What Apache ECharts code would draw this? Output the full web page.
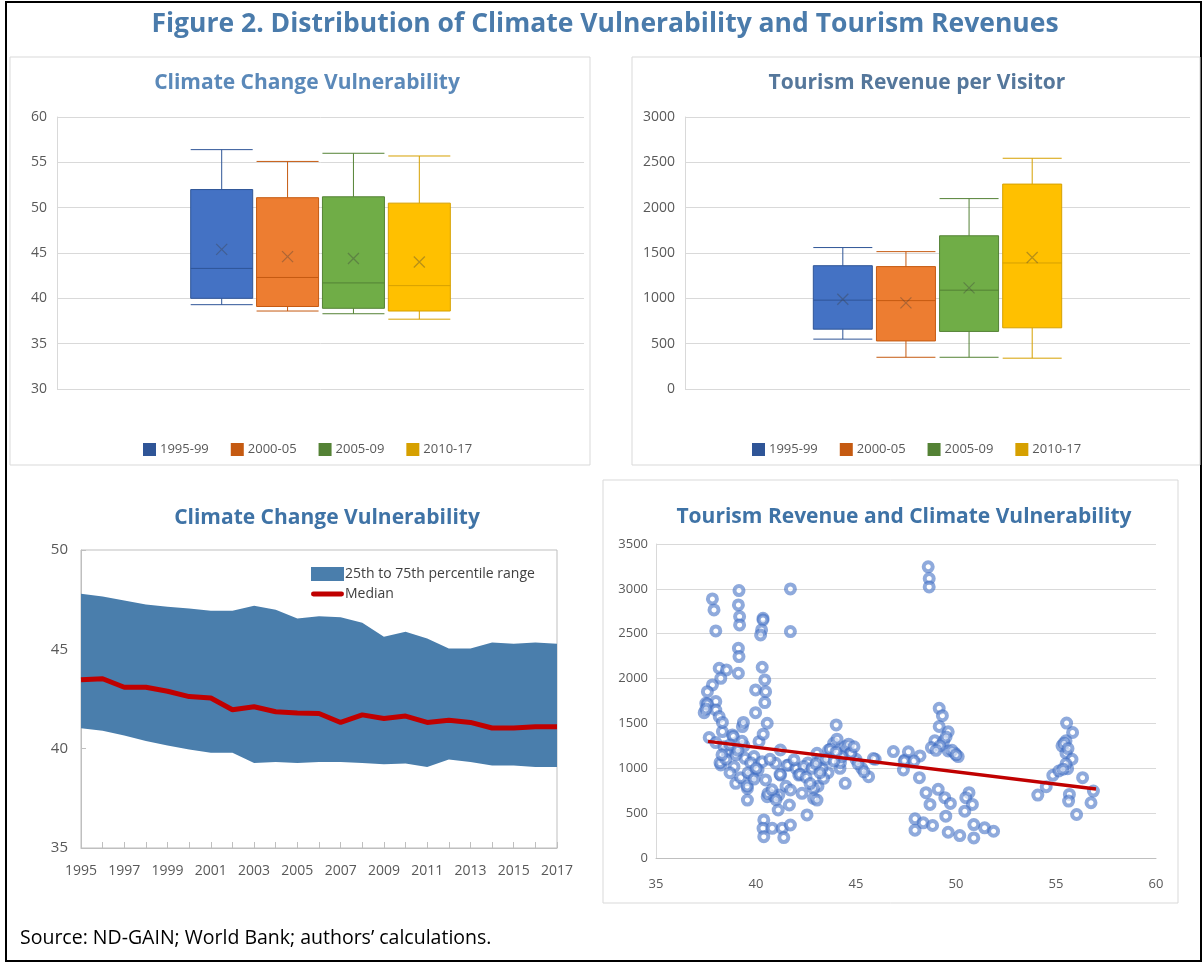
<!DOCTYPE html>
<html>
<head>
<meta charset="utf-8">
<script src="https://cdn.jsdelivr.net/npm/echarts@6/dist/echarts.min.js"></script>
<style>
  body { margin: 0; background: #fff; }
  #chart { width: 1204px; height: 963px; }
</style>
</head>
<body>
<div id="chart"></div>
<script>
// --- data ---
const PERIODS = ['1995-99', '2000-05', '2005-09', '2010-17']
const PERIOD_COLORS = ['#4472c4', '#ed7d31', '#70ad47', '#ffc000']
const PERIOD_BORDERS = ['#2f5597', '#c55a11', '#548235', '#d6a000']

// [min, Q1, median, Q3, max]
const VULN_BOX = [
  [39.3, 40.0, 43.3, 52.0, 56.4],
  [38.6, 39.1, 42.3, 51.1, 55.1],
  [38.3, 38.9, 41.7, 51.2, 56.0],
  [37.7, 38.6, 41.4, 50.5, 55.7]
]
const VULN_MEAN = [45.4, 44.6, 44.4, 44.0]

const REV_BOX = [
  [550, 660, 980, 1360, 1560],
  [350, 530, 975, 1350, 1515],
  [350, 635, 1090, 1690, 2100],
  [340, 675, 1390, 2260, 2545]
]
const REV_MEAN = [990, 950, 1115, 1450]

const YEARS = ['1995', '1996', '1997', '1998', '1999', '2000', '2001', '2002', '2003', '2004', '2005', '2006',
  '2007', '2008', '2009', '2010', '2011', '2012', '2013', '2014', '2015', '2016', '2017']
const P75 = [47.8, 47.66, 47.46, 47.26, 47.14, 47.05, 46.94, 46.94, 47.19, 46.99, 46.55, 46.67,
  46.61, 46.34, 45.63, 45.89, 45.55, 45.04, 45.04, 45.34, 45.28, 45.34, 45.28]
const P25 = [41.03, 40.9, 40.66, 40.38, 40.16, 39.96, 39.79, 39.79, 39.28, 39.33, 39.28, 39.33,
  39.33, 39.28, 39.22, 39.25, 39.08, 39.45, 39.33, 39.15, 39.15, 39.08, 39.08]
const MEDIAN = [43.47, 43.52, 43.09, 43.09, 42.89, 42.62, 42.55, 41.96, 42.11, 41.86, 41.79, 41.77,
  41.32, 41.7, 41.52, 41.64, 41.32, 41.43, 41.32, 41.04, 41.04, 41.1, 41.1]

// scatter: vulnerability score vs revenue per visitor
const SC_X = [
  37.82, 37.9, 37.99, 39.15, 39.12, 39.18, 39.18, 40.35, 40.35, 40.28, 40.23, 41.72, 41.72, 39.12, 39.15, 39.12,
  38.16, 38.52, 38.24, 37.82, 37.57, 37.49, 37.99, 40.31, 40.44, 39.98, 40.48, 40.44,
  37.41, 37.57, 37.99, 38.16, 38.32, 38.82, 39.32, 39.98, 40.56, 40.15, 38.32, 39.37, 38.87, 40.36, 37.66, 37.5,
  37.99, 38.57, 38.24, 38.9, 39.45, 38.99, 39.57, 39.57, 39.9, 40.31, 40.48, 40.56, 40.98, 41.23, 41.64, 41.14,
  41.67, 41.11, 40.39, 40.35, 40.81, 41.31, 40.39, 41.39, 41.72, 38.54, 38.2, 39.23, 39.56, 39.4, 39.73, 38.49,
  40.9, 41.2, 41.56, 40.6, 40.8, 41.0, 38.7, 39.0, 39.8, 40.1, 38.4, 39.3,
  38.3, 38.7, 39.1, 39.6, 39.9, 40.0, 40.7, 41.5, 42.0, 42.6, 43.1, 43.6, 44.2, 44.5, 45.0,
  44.01, 43.88, 43.63, 44.46, 44.71, 43.05, 43.22, 46.87, 47.45, 47.37, 45.96, 45.29, 45.63, 44.46, 41.22, 42.14,
  41.72, 42.3, 42.88, 42.88, 43.05, 42.55, 43.38, 43.3, 42.39, 41.9, 42.2, 43.72, 44.22, 44.63, 44.05, 45.87,
  44.75, 42.5, 42.8, 43.0, 43.5, 43.2, 42.7, 44.3, 44.9, 45.1, 45.4, 44.0, 43.9,
  48.61, 48.66, 48.66, 49.16, 49.32, 49.16, 49.61, 48.94, 48.77, 49.39, 49.61, 49.94, 50.11, 47.62, 47.41, 48.2,
  47.9, 48.17, 48.5, 48.7, 49.11, 49.44, 49.72, 49.49, 50.65, 50.49, 50.82, 50.44, 47.95, 47.95, 48.36, 48.83,
  49.61, 50.19, 50.89, 50.89, 51.43, 51.88, 49.2, 49.5, 49.8, 50.0, 49.0,
  54.09, 54.51, 54.84, 55.14, 55.58, 55.53, 55.83, 55.5, 55.3, 55.5, 55.8, 55.67, 55.63, 56.03, 56.33, 56.87,
  56.75, 55.4, 55.6, 55.5, 55.35
]
const SC_Y = [
  2888, 2765, 2531, 2981, 2821, 2691, 2598, 2672, 2654, 2542, 2486, 2999, 2524, 2338, 2245, 2059,
  2115, 2096, 2003, 1929, 1854, 1725, 1744, 2126, 1985, 1873, 1854, 1732,
  1620, 1717, 1650, 1576, 1409, 1372, 1465, 1620, 1502, 1297, 1511, 1511, 1354, 1380, 1343, 1660,
  1287, 1204, 1037, 1018, 1111, 832, 776, 646, 1130, 1074, 870, 684, 1056, 924, 1037, 702,
  591, 535, 424, 331, 331, 331, 238, 228, 368, 1183, 1063, 895, 802, 1250, 1063, 1101,
  690, 933, 1033, 720, 760, 650, 950, 1150, 920, 980, 1240, 1300,
  1150, 1260, 1200, 950, 880, 1000, 1100, 800, 1000, 1060, 800, 950, 1000, 1200, 1100,
  1483, 1279, 1204, 1242, 1167, 1167, 1093, 1186, 1093, 981, 1100, 1000, 907, 832, 1204, 924,
  758, 721, 776, 665, 646, 480, 888, 1000, 1019, 1093, 933, 1213, 1063, 1269, 1325, 1108,
  1168, 900, 1000, 1050, 1100, 950, 830, 1130, 1240, 1050, 960, 1180, 1080,
  3246, 3115, 3022, 1668, 1586, 1466, 1407, 1306, 1231, 1306, 1194, 1168, 1131, 1183, 1082, 1138,
  1082, 895, 728, 597, 765, 672, 608, 466, 728, 672, 597, 522, 437, 310, 392, 362,
  287, 250, 373, 224, 336, 298, 1250, 1350, 1200, 1150, 1200,
  701, 795, 922, 970, 996, 1504, 1399, 1306, 1250, 1168, 1101, 709, 634, 485, 895, 746,
  616, 1280, 1220, 1050, 990
]
const TREND_X = [37.6, 57.0]
const TREND_Y = [1300, 770]

// --- helpers ---
const FONT = '"Open Sans", "Noto Sans", sans-serif'
const SLOTS = ['s0', 's1', 's2', 's3', 's4', 's5', 's6', 's7']
const FIRST_SLOT = 2
const GRID_LINE = '#d9d9d9'
const LABEL = '#595959'
const plain = v => String(v) // no thousands separator, like the source

const chart = echarts.init(document.getElementById('chart'))

const boxAxes = []
const boxSeries = []
const addBoxPanel = (gridIndex, boxes, means, boxWidth) => {
  boxes.forEach((box, i) => {
    const axisIndex = boxAxes.length
    boxAxes.push({ type: 'category', gridIndex, data: SLOTS, show: false })
    // one real box per axis, others empty so each box sits in its own slot
    const data = SLOTS.map((s, k) => (k === FIRST_SLOT + i ? box.slice() : ['-', '-', '-', '-', '-']))
    boxSeries.push({
      name: PERIODS[i],
      type: 'boxplot',
      xAxisIndex: axisIndex,
      yAxisIndex: gridIndex,
      boxWidth: [boxWidth, boxWidth],
      data,
      itemStyle: { color: PERIOD_COLORS[i], borderColor: PERIOD_BORDERS[i], borderWidth: 1 }
    })
    boxSeries.push({
      name: 'mean' + gridIndex + i,
      type: 'scatter',
      xAxisIndex: axisIndex,
      yAxisIndex: gridIndex,
      symbol: 'path://M0,0L10,10M10,0L0,10',
      symbolSize: 11,
      z: 5,
      itemStyle: { color: 'none', borderColor: 'rgba(60,60,60,0.45)', borderWidth: 1.3 },
      data: [[FIRST_SLOT + i, means[i]]]
    })
  })
}
addBoxPanel(0, VULN_BOX, VULN_MEAN, 62)
addBoxPanel(1, REV_BOX, REV_MEAN, 59)

const boxYAxis = (gridIndex, min, max, interval) => ({
  type: 'value', gridIndex, min, max, interval,
  axisLine: { show: true, lineStyle: { color: GRID_LINE } },
  axisTick: { show: false },
  axisLabel: { color: LABEL, fontSize: 14, margin: 10, formatter: plain },
  splitLine: { lineStyle: { color: GRID_LINE } }
})

const titleText = (x, y, text, size, color) => ({
  type: 'text', x, y, silent: true,
  style: { text, fill: color, font: `bold ${size}px ${FONT}`, align: 'center', verticalAlign: 'middle' }
})
const frame = (x, y, width, height, stroke, lineWidth) => ({
  type: 'rect', silent: true, z: -10,
  shape: { x, y, width, height },
  style: { fill: 'none', stroke, lineWidth }
})

const option = {
  animation: false,
  backgroundColor: '#fff',
  textStyle: { fontFamily: FONT },
  graphic: [
    frame(6, 2, 1195, 959, '#000', 2),
    frame(10, 57, 580, 408, GRID_LINE, 1),
    frame(632, 57, 568, 408, GRID_LINE, 1),
    frame(603, 480, 575, 423, GRID_LINE, 1),
    titleText(605, 24, 'Figure 2. Distribution of Climate Vulnerability and Tourism Revenues', 26.5, '#4a7bab'),
    titleText(307, 83, 'Climate Change Vulnerability', 21, '#5b89b9'),
    titleText(917, 83, 'Tourism Revenue per Visitor', 21, '#55779b'),
    titleText(327, 518, 'Climate Change Vulnerability', 21, '#3f73a6'),
    titleText(904, 517, 'Tourism Revenue and Climate Vulnerability', 21, '#3f73a6'),
    {
      type: 'text', x: 20, y: 938, silent: true,
      style: { text: 'Source: ND-GAIN; World Bank; authors’ calculations.', fill: '#000',
        font: `19.5px ${FONT}`, align: 'left', verticalAlign: 'middle' }
    }
  ],
  legend: [
    {
      data: PERIODS, left: 138, top: 438, icon: 'rect', itemWidth: 11, itemHeight: 11, itemGap: 22,
      textStyle: { color: LABEL, fontSize: 13 }, selectedMode: false
    },
    {
      data: PERIODS, left: 747, top: 438, icon: 'rect', itemWidth: 11, itemHeight: 11, itemGap: 22,
      textStyle: { color: LABEL, fontSize: 13 }, selectedMode: false
    },
    {
      data: [
        { name: '25th to 75th percentile range', icon: 'rect' },
        { name: 'Median', icon: 'path://M2,0H31A2,2,0,0,1,31,5H2A2,2,0,0,1,2,0Z' }
      ],
      orient: 'vertical', left: 306, top: 562, itemWidth: 33, itemHeight: 14, itemGap: 6,
      symbolKeepAspect: true,
      textStyle: { color: '#404040', fontSize: 14, padding: [0, 0, 0, -4] }, selectedMode: false
    }
  ],
  grid: [
    { left: 57, top: 117, width: 527, height: 272 },
    { left: 685, top: 117, width: 505, height: 272 },
    { left: 81, top: 550, width: 476, height: 298, show: true, borderColor: '#bfbfbf', borderWidth: 1 },
    { left: 656, top: 544, width: 500, height: 314 }
  ],
  xAxis: [
    ...boxAxes,
    {
      type: 'category', gridIndex: 2, data: YEARS, boundaryGap: false,
      axisLine: { lineStyle: { color: '#bfbfbf' } },
      axisTick: { inside: true, length: 6, interval: 0, lineStyle: { color: '#bfbfbf' } },
      axisLabel: { interval: 1, color: LABEL, fontSize: 14, margin: 16 }
    },
    {
      type: 'value', gridIndex: 3, min: 35, max: 60, interval: 5,
      axisLine: { lineStyle: { color: '#bfbfbf' } },
      axisTick: { show: false },
      splitLine: { show: false },
      axisLabel: { color: LABEL, fontSize: 13, margin: 20 }
    }
  ],
  yAxis: [
    boxYAxis(0, 30, 60, 5),
    boxYAxis(1, 0, 3000, 500),
    {
      type: 'value', gridIndex: 2, min: 35, max: 50, interval: 5,
      axisLine: { show: true, lineStyle: { color: '#bfbfbf' } },
      axisTick: { show: true, inside: true, length: 5, lineStyle: { color: '#bfbfbf' } },
      splitLine: { show: false },
      axisLabel: { color: LABEL, fontSize: 15, margin: 13 }
    },
    {
      type: 'value', gridIndex: 3, min: 0, max: 3500, interval: 500,
      axisLine: { show: true, lineStyle: { color: GRID_LINE } },
      axisTick: { show: false },
      splitLine: { lineStyle: { color: GRID_LINE } },
      axisLabel: { color: LABEL, fontSize: 13, margin: 8, formatter: plain }
    }
  ],
  series: [
    ...boxSeries,
    {
      name: 'p25', type: 'line', xAxisIndex: 8, yAxisIndex: 2, stack: 'band',
      data: P25, symbol: 'none', lineStyle: { opacity: 0 }
    },
    {
      name: '25th to 75th percentile range', type: 'line', xAxisIndex: 8, yAxisIndex: 2, stack: 'band',
      data: P75.map((v, i) => +(v - P25[i]).toFixed(2)), symbol: 'none',
      color: '#4a7eac',
      lineStyle: { width: 0 },
      areaStyle: { color: '#4a7eac', opacity: 1 }
    },
    {
      name: 'Median', type: 'line', xAxisIndex: 8, yAxisIndex: 2, data: MEDIAN, symbol: 'none',
      color: '#c00000', lineStyle: { color: '#c00000', width: 5 }, z: 4
    },
    {
      name: 'obs', type: 'scatter', xAxisIndex: 9, yAxisIndex: 3,
      data: SC_X.map((x, i) => [x, SC_Y[i]]),
      symbol: 'circle', symbolSize: 9,
      itemStyle: { color: '#fff', borderColor: '#4472c4', borderWidth: 4, opacity: 0.6 }
    },
    {
      name: 'trend', type: 'line', xAxisIndex: 9, yAxisIndex: 3,
      data: TREND_X.map((x, i) => [x, TREND_Y[i]]),
      symbol: 'none', lineStyle: { color: '#c00000', width: 3.5 }, z: 4
    }
  ]
}

chart.setOption(option)
</script>
</body>
</html>
